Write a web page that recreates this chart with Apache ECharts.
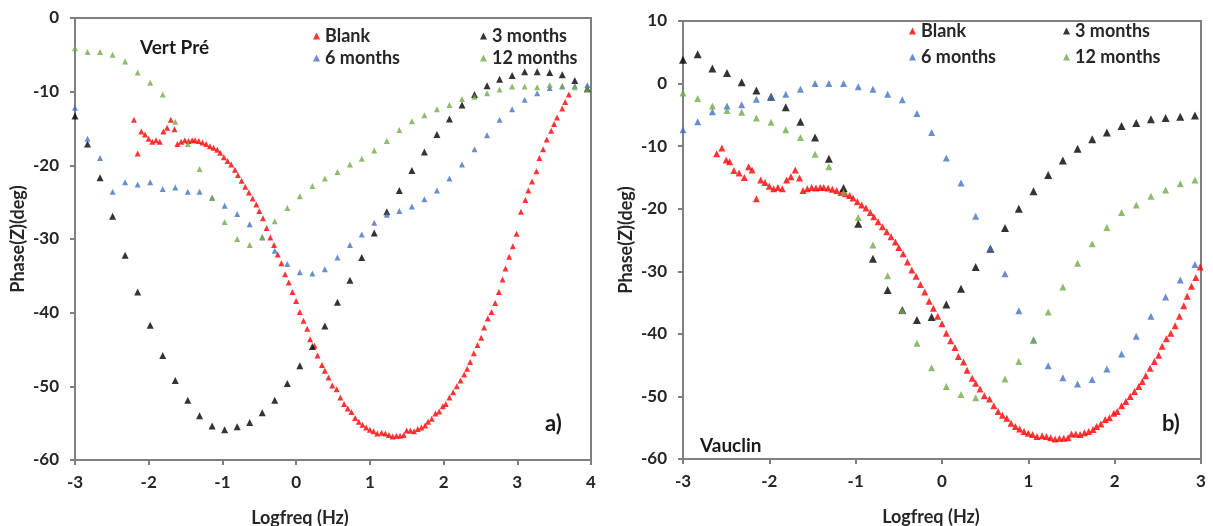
<!DOCTYPE html>
<html>
<head>
<meta charset="utf-8">
<script src="https://cdn.jsdelivr.net/npm/echarts@6/dist/echarts.min.js"></script>
<style>html,body{margin:0;padding:0;background:#fff;}#c{width:1213px;height:526px;}</style>
</head>
<body>
<div id="c"></div>
<script>
// log10 frequency (Hz) shared by the 3, 6 and 12 months measurements
const freqMonths = [-3.00,-2.83,-2.66,-2.49,-2.32,-2.15,-1.98,-1.81,-1.64,-1.47,-1.31,-1.14,-0.97,-0.80,-0.63,-0.46,-0.29,-0.12,0.05,0.22,0.39,0.56,0.73,0.89,1.06,1.23,1.40,1.57,1.74,1.91,2.08,2.25,2.42,2.59,2.76,2.93,3.10,3.27,3.44,3.61,3.78,3.95];

// Vert Pré (panel a)
const vertPre3m = [-13.3,-17.1,-21.7,-26.9,-32.2,-37.2,-41.7,-45.8,-49.2,-51.9,-54.0,-55.4,-55.9,-55.5,-54.9,-53.6,-51.9,-49.6,-47.2,-44.6,-41.8,-38.6,-35.6,-32.5,-29.2,-26.3,-23.4,-20.7,-18.2,-15.8,-13.7,-11.8,-10.4,-9.2,-8.3,-7.8,-7.3,-7.3,-7.4,-7.7,-8.5,-9.6];
const vertPre6m = [-12.2,-16.4,-19.0,-23.6,-22.3,-22.6,-22.3,-23.2,-23.0,-23.6,-23.6,-24.4,-25.5,-26.6,-28.0,-29.8,-31.6,-33.4,-34.5,-34.7,-34.1,-32.5,-30.8,-29.4,-27.8,-26.7,-26.2,-25.6,-24.6,-23.4,-21.8,-19.9,-17.8,-15.9,-13.8,-12.4,-11.1,-10.2,-9.5,-9.3,-9.2,-9.1];
const vertPre12m = [-4.1,-4.6,-4.6,-5.0,-5.9,-7.4,-8.8,-10.4,-14.1,-17.1,-20.5,-24.4,-27.7,-30.0,-30.8,-29.7,-27.6,-25.8,-24.2,-22.8,-21.8,-20.9,-19.9,-19.1,-18.0,-16.7,-15.2,-14.0,-13.2,-12.4,-11.8,-11.0,-10.7,-10.2,-9.7,-9.3,-9.3,-9.4,-9.1,-9.2,-9.4,-9.7];

// Vauclin (panel b)
const vauclin3m = [3.8,4.7,2.4,1.7,0.2,-1.1,-2.1,-3.8,-6.1,-8.6,-12.0,-16.7,-22.4,-28.0,-33.0,-36.2,-37.8,-37.3,-35.3,-32.8,-29.3,-26.4,-23.1,-20.0,-17.2,-14.6,-12.3,-10.4,-8.9,-7.8,-6.8,-6.3,-5.7,-5.5,-5.3,-5.1];
const vauclin6m = [-7.4,-6.1,-4.5,-3.6,-3.4,-2.5,-2.1,-1.7,-0.9,0.0,0.0,0.0,-0.5,-0.9,-1.7,-2.6,-4.8,-7.8,-11.9,-15.9,-21.2,-26.3,-30.4,-36.3,-41.0,-45.1,-47.0,-48.0,-47.3,-45.6,-43.2,-40.4,-37.2,-34.1,-31.4,-28.9];
const vauclin12m = [-1.5,-2.4,-3.6,-4.3,-4.6,-5.5,-6.2,-7.4,-8.6,-11.3,-13.3,-17.4,-21.4,-25.8,-30.7,-36.3,-41.5,-45.4,-48.4,-49.7,-50.2,null,-47.2,-44.4,-41.0,-36.5,-32.5,-28.7,-25.6,-23.0,-20.6,-19.4,-18.0,-17.0,-16.0,-15.4];

// Blank (same measurement shown in both panels)
const blankFreq = [-2.61,-2.55,-2.50,-2.46,-2.41,-2.35,-2.29,-2.24,-2.20,-2.15,-2.10,-2.05,-2.00,-1.95,-1.90,-1.85,-1.80,-1.75,-1.70,-1.65,-1.61,-1.56,-1.51,-1.46,-1.41,-1.37,-1.32,-1.27,-1.22,-1.17,-1.12,-1.07,-1.03,-0.98,-0.93,-0.88,-0.83,-0.79,-0.74,-0.69,-0.64,-0.59,-0.54,-0.50,-0.45,-0.40,-0.35,-0.30,-0.25,-0.20,-0.15,-0.10,-0.05,0.00,0.05,0.10,0.15,0.19,0.25,0.29,0.35,0.39,0.44,0.49,0.55,0.60,0.65,0.70,0.75,0.80,0.85,0.90,0.95,1.00,1.05,1.10,1.16,1.21,1.26,1.31,1.36,1.41,1.46,1.50,1.55,1.60,1.65,1.70,1.75,1.79,1.84,1.89,1.94,1.99,2.03,2.08,2.13,2.18,2.23,2.28,2.32,2.36,2.41,2.46,2.51,2.55,2.60,2.65,2.70,2.75,2.80,2.84,2.89,2.94,2.99,3.05,3.11,3.15,3.20,3.26,3.30,3.35,3.40,3.46,3.50,3.54,3.61,3.65,3.70];
const blankPhase = [-11.2,-10.3,-12.2,-12.5,-13.9,-14.3,-15.0,-13.3,-13.8,-18.4,-15.4,-15.8,-16.4,-16.8,-16.6,-16.8,-15.4,-14.9,-13.8,-15.1,-17.1,-16.8,-16.6,-16.7,-16.6,-16.6,-16.7,-16.9,-17.1,-17.4,-17.6,-17.9,-18.3,-18.9,-19.4,-19.9,-20.6,-21.3,-22.1,-22.9,-23.7,-24.5,-25.3,-26.2,-27.2,-28.5,-29.8,-30.8,-32.1,-33.3,-34.8,-35.9,-37.2,-38.4,-39.9,-41.1,-42.2,-43.6,-44.5,-45.8,-47.1,-47.9,-48.8,-49.9,-50.4,-51.5,-52.4,-53.0,-53.5,-54.3,-54.8,-55.2,-55.6,-55.9,-56.1,-56.4,-56.3,-56.4,-56.6,-56.8,-56.7,-56.7,-56.6,-56.0,-56.0,-56.1,-55.8,-55.6,-55.3,-54.8,-54.4,-53.7,-53.4,-52.7,-52.4,-51.5,-50.8,-50.0,-49.2,-48.4,-47.6,-46.7,-45.5,-44.4,-43.4,-42.0,-40.8,-39.9,-38.7,-37.2,-35.5,-34.0,-32.4,-31.0,-29.3,-26.3,-24.7,-23.4,-22.2,-20.8,-19.0,-17.8,-16.5,-15.3,-14.4,-13.5,-12.3,-11.4,-10.4];

const xTicksLeft = [-3, 4, 1];
const xTicksRight = [-3, 3, 1];
const yTicksLeft = [-60, 0, 10];
const yTicksRight = [-60, 10, 10];

function pairs(xs, ys, minX) {
  const out = [];
  for (let i = 0; i < ys.length && i < xs.length; i++) {
    if (ys[i] === null) continue;
    if (minX !== undefined && xs[i] < minX) continue;
    out.push([xs[i], ys[i]]);
  }
  return out;
}

const FONT = 'Lato';
const TXT = '#262626';
const AX = '#7f7f7f';
const colors = { 'Blank': '#ff0000', '3 months': '#000000', '6 months': '#4472c4', '12 months': '#70ad47' };

function xAxis(grid, t, nameShift) {
  return {
    type: 'value', gridIndex: grid, min: t[0], max: t[1], interval: t[2],
    axisLine: { show: true, onZero: false, lineStyle: { color: AX, width: 2 } },
    axisTick: { show: true, inside: false, length: 5, lineStyle: { color: AX, width: 2 } },
    splitLine: { show: false },
    axisLabel: { margin: 14, fontSize: 17, fontWeight: 'bold', color: TXT, fontFamily: FONT },
    name: 'Logfreq (Hz)', nameLocation: 'middle', nameGap: 49,
    nameTextStyle: { fontSize: 18, fontWeight: 'bold', color: TXT, fontFamily: FONT, padding: nameShift }
  };
}
function yAxis(grid, t) {
  return {
    type: 'value', gridIndex: grid, min: t[0], max: t[1], interval: t[2],
    axisLine: { show: true, onZero: false, lineStyle: { color: AX, width: 2 } },
    axisTick: { show: true, inside: false, length: 5, lineStyle: { color: AX, width: 2 } },
    splitLine: { show: false },
    axisLabel: { margin: 16, fontSize: 17, fontWeight: 'bold', color: TXT, fontFamily: FONT },
    name: 'Phase(Z)(deg)', nameLocation: 'middle', nameGap: 48,
    nameTextStyle: { fontSize: 18, fontWeight: 'bold', color: TXT, fontFamily: FONT }
  };
}
function sc(name, idx, data, size) {
  return {
    type: 'scatter', name: name, xAxisIndex: idx, yAxisIndex: idx, data: data,
    symbol: 'triangle', symbolSize: size, clip: true,
    itemStyle: { color: colors[name] }, emphasis: { disabled: true }
  };
}
function lg(name, left, top) {
  return {
    data: [name], left: left, top: top, padding: 0, itemWidth: 7, itemHeight: 7,
    icon: 'triangle', selectedMode: false, itemGap: 0,
    textStyle: { fontSize: 18, fontWeight: 'bold', color: TXT, fontFamily: FONT }
  };
}
function txt(s, left, top, size) {
  return { type: 'text', left: left, top: top, style: { text: s, fontSize: size, fontWeight: 'bold', fill: '#1a1a1a', fontFamily: FONT } };
}

const chart = echarts.init(document.getElementById('c'), null, { renderer: 'canvas' });
chart.setOption({
  backgroundColor: '#ffffff',
  animation: false,
  grid: [
    { left: 75, top: 18, width: 516, height: 442, show: true, borderColor: AX, borderWidth: 2, backgroundColor: 'transparent', containLabel: false, outerBoundsMode: 'none' },
    { left: 683, top: 21, width: 518, height: 438, show: true, borderColor: AX, borderWidth: 2, backgroundColor: 'transparent', containLabel: false, outerBoundsMode: 'none' }
  ],
  xAxis: [xAxis(0, xTicksLeft, [0, 66, 0, 0]), xAxis(1, xTicksRight, [0, 22, 0, 0])],
  yAxis: [yAxis(0, yTicksLeft), yAxis(1, yTicksRight)],
  legend: [
    lg('Blank', 313, 27), lg('6 months', 313, 49), lg('3 months', 480, 27), lg('12 months', 480, 49),
    lg('Blank', 909, 22), lg('6 months', 909, 48), lg('3 months', 1063, 22), lg('12 months', 1063, 48)
  ],
  graphic: [
    txt('Vert Pré', 140, 38, 19),
    txt('a)', 545, 413, 22),
    txt('Vauclin', 700, 436, 19),
    txt('b)', 1162, 413, 22)
  ],
  series: [
    sc('Blank', 0, pairs(blankFreq, blankPhase, -2.21), 6),
    sc('3 months', 0, pairs(freqMonths, vertPre3m), 7),
    sc('6 months', 0, pairs(freqMonths, vertPre6m), 6),
    sc('12 months', 0, pairs(freqMonths, vertPre12m), 6),
    sc('Blank', 1, pairs(blankFreq, blankPhase), 7),
    sc('3 months', 1, pairs(freqMonths, vauclin3m), 8),
    sc('6 months', 1, pairs(freqMonths, vauclin6m), 7),
    sc('12 months', 1, pairs(freqMonths, vauclin12m), 7)
  ]
});
</script>
</body>
</html>
